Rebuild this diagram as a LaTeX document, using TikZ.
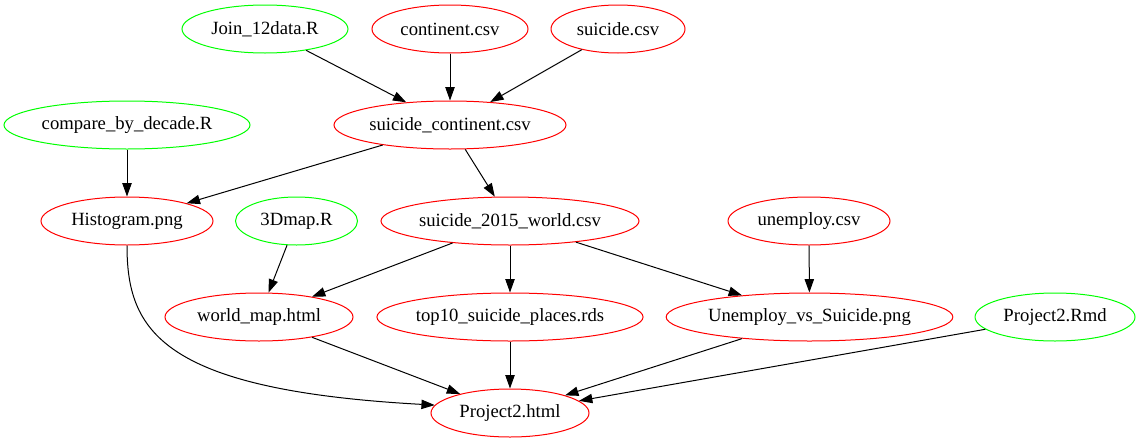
\documentclass[tikz,border=0pt]{standalone}
\usepackage{fontspec}
\setmainfont{Liberation Serif}
\usetikzlibrary{shapes.geometric,arrows.meta}
\definecolor{gvred}{RGB}{255,0,0}
\definecolor{gvgreen}{RGB}{0,255,0}
\tikzset{
  gbase/.style={ellipse, inner sep=0pt, minimum height=36pt, line width=0.75pt, font=\fontsize{14}{16}\selectfont},
  outnode/.style={gbase, draw=gvred},
  srcnode/.style={gbase, draw=gvgreen},
  gedge/.style={line width=0.75pt, -{Triangle[length=10pt,width=7pt]}}
}
\begin{document}
\begin{tikzpicture}[x=0.75pt,y=-0.75pt]
\useasboundingbox (0,0) rectangle (1139,443);
% row 1
\node[srcnode, minimum width=124.5pt] (join) at (265,29) {Join\_12data.R};
\node[outnode, minimum width=117pt] (cont) at (450,29) {continent.csv};
\node[outnode, minimum width=100.5pt] (sui) at (618,29) {suicide.csv};
% row 2
\node[srcnode, minimum width=184.5pt] (cmp) at (127,125) {compare\_by\_decade.R};
\node[outnode, minimum width=174pt] (sc) at (450,125) {suicide\_continent.csv};
% row 3
\node[outnode, minimum width=129pt] (hist) at (127,221) {Histogram.png};
\node[srcnode, minimum width=91.5pt] (map3d) at (296.5,221) {3Dmap.R};
\node[outnode, minimum width=193.5pt] (sw) at (510,221) {suicide\_2015\_world.csv};
\node[outnode, minimum width=121.5pt] (unemp) at (809,221) {unemploy.csv};
% row 4
\node[outnode, minimum width=141pt] (wm) at (259,317) {world\_map.html};
\node[outnode, minimum width=198pt] (top) at (510,317) {top10\_suicide\_places.rds};
\node[outnode, minimum width=214.5pt] (uvs) at (809.5,317) {Unemploy\_vs\_Suicide.png};
\node[srcnode, minimum width=120pt] (rmd) at (1055,317) {Project2.Rmd};
% row 5
\node[outnode, minimum width=118.5pt] (html) at (510,413) {Project2.html};
% edges
\draw[gedge] (join) -- (sc);
\draw[gedge] (cont) -- (sc);
\draw[gedge] (sui) -- (sc);
\draw[gedge] (cmp) -- (hist);
\draw[gedge] (sc) -- (hist);
\draw[gedge] (sc) -- (sw);
\draw[gedge] (map3d) -- (wm);
\draw[gedge] (sw) -- (wm);
\draw[gedge] (sw) -- (top);
\draw[gedge] (sw) -- (uvs);
\draw[gedge] (unemp) -- (uvs);
\draw[gedge] (hist.south) .. controls (127,330) and (160,390) .. (html.174);
\draw[gedge] (wm) -- (html);
\draw[gedge] (top) -- (html);
\draw[gedge] (uvs) -- (html);
\draw[gedge] (rmd) -- (html);
\end{tikzpicture}
\end{document}
